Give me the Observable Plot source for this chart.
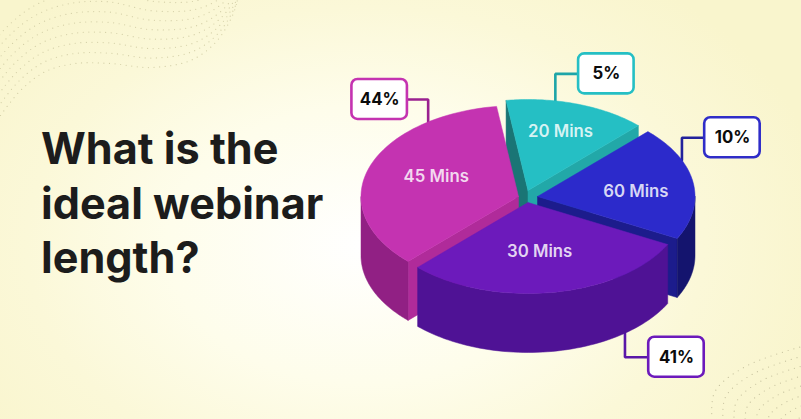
<!DOCTYPE html>
<html>
<head>
<meta charset="utf-8">
<script src="https://cdn.jsdelivr.net/npm/d3@7"></script>
<script src="https://cdn.jsdelivr.net/npm/@observablehq/plot@0.6"></script>
<style>
  html,body{margin:0;padding:0;width:801px;height:419px;overflow:hidden;}
  body{background:radial-gradient(ellipse 470px 330px at 365px 245px,#ffffff 0%,#fefdeb 42%,#fbf8d8 72%,#f9f5cd 100%);}
  svg{background:transparent!important;display:block;}
</style>
</head>
<body>
<div id="chart"></div>
<script>
// ---- chart values ----
const categories = ["45 Mins", "20 Mins", "60 Mins", "30 Mins"];
const shares = [44, 5, 10, 41];
const drawnSweep = [127.5, 52.5, 73, 107];   // degrees each slice really occupies in the artwork
const titleLines = ["What is the", "ideal webinar", "length?"];

// ---- layout and style, kept apart from the values ----
const W = 801, H = 419;
const pie = {cx: 527.5, cy: 196, rx: 157.5, ry: 91, depth: 59, startAt: 134.5, pullX: 9.5, pullY: 6};
const pullDir = [180, 270, 0, 90];
const topColor = ["#c433b1", "#25bfc4", "#2c2acb", "#6c1abb"];
const wallColor = ["#912084", "#1f9a9e", "#14146e", "#4f1295"];
const faceStart = ["#b02b9a", "#1a7575", null, null];
const faceEnd = [null, "#22a8a8", "#1c1c8c", null];
const leaderColor = ["#9a2190", "#1ea5a8", "#22229c", "#5a17a8"];
const boxColor = ["#c433b1", "#25bfc4", "#2f2dc8", "#6c1abb"];
const paintOrder = [1, 2, 0, 3];
const labelPolar = [[0.571, 203.8], [0.69, 287.4], [0.628, 354], [0.532, 82]];
const calloutAnchorDeg = [235, 280, 336.5, 52];
const calloutFromBottom = [false, false, false, true];
const boxOffset = [[-48.5, -22.5], [51, -27], [50.5, -22.5], [51.5, 24]];
const boxW = 55.5, boxH = 40;

// ---- geometry derived from the values ----
const rad = d => d * Math.PI / 180;
const ends = d3.cumsum(drawnSweep).map(s => s + pie.startAt);
const slices = categories.map((name, i) => {
  const t0 = ends[i] - drawnSweep[i], t1 = ends[i];
  return {
    i, name, t0, t1,
    ax: pie.cx + Math.cos(rad(pullDir[i])) * pie.pullX,
    ay: pie.cy + Math.sin(rad(pullDir[i])) * pie.pullY
  };
});
const rim = (s, t, down = 0) => ({
  x: s.ax + pie.rx * Math.cos(rad(t)),
  y: s.ay + pie.ry * Math.sin(rad(t)) + down
});
const arc = (s, a, b, down = 0) => d3.range(0, 61).map(k => rim(s, a + (b - a) * k / 60, down));
const closed = pts => [...pts, pts[0]];

function sliceTop(s) {
  return closed([{x: s.ax, y: s.ay}, ...arc(s, s.t0, s.t1)]);
}
function cutFace(s, t) {
  const c = rim(s, t);
  return closed([{x: s.ax, y: s.ay}, c, {x: c.x, y: c.y + pie.depth}, {x: s.ax, y: s.ay + pie.depth}]);
}
// visible part of the outer wall: the front half of the rim
function outerWall(s) {
  const spans = [[s.t0, s.t1], [s.t0 - 360, s.t1 - 360]];
  const out = [];
  for (const [a, b] of spans) {
    const lo = Math.max(a, 0), hi = Math.min(b, 180);
    if (hi > lo) out.push(closed([...arc(s, lo, hi), ...arc(s, hi, lo, pie.depth)]));
  }
  return out;
}
const poly = (pts, color) => Plot.line(pts, {x: "x", y: "y", fill: color, stroke: color, strokeWidth: 0.5, curve: "linear"});

const sliceMarks = paintOrder.flatMap(i => {
  const s = slices[i], m = [];
  if (faceStart[i]) m.push(poly(cutFace(s, s.t0), faceStart[i]));
  if (faceEnd[i]) m.push(poly(cutFace(s, s.t1), faceEnd[i]));
  outerWall(s).forEach(w => m.push(poly(w, wallColor[i])));
  m.push(poly(sliceTop(s), topColor[i]));
  return m;
});

const callouts = slices.map(s => {
  const a = rim(s, calloutAnchorDeg[s.i], calloutFromBottom[s.i] ? pie.depth : 0);
  const [dx, dy] = boxOffset[s.i];
  return {i: s.i, ax: a.x, ay: a.y, bx: a.x + dx, by: a.y + dy, text: shares[s.i] + "%"};
});
const leaderMarks = callouts.map(c => Plot.line(
  [{x: c.ax, y: c.ay}, {x: c.ax, y: c.by}, {x: c.bx, y: c.by}],
  {x: "x", y: "y", stroke: leaderColor[c.i], strokeWidth: 2.6, curve: "linear", strokeLinejoin: "miter"}
));

const sliceLabels = slices.map(s => {
  const [r, t] = labelPolar[s.i];
  return {text: s.name, x: s.ax + r * pie.rx * Math.cos(rad(t)), y: s.ay + r * pie.ry * Math.sin(rad(t)) + 1};
});

// ---- faint dotted background waves (decoration) ----
function dotsAlong(points, step, curve) {
  const p = document.createElementNS("http://www.w3.org/2000/svg", "path");
  p.setAttribute("d", d3.line().curve(curve)(points));
  const len = p.getTotalLength();
  return d3.range(0, len, step).map(l => { const q = p.getPointAtLength(l); return {x: q.x, y: q.y}; });
}
const waveBase = [[0,115],[20,90],[45,71],[75,63],[110,63],[150,67],[190,60],[215,42],[232,15],[238,-4]];
const waveDots = d3.range(0, 8).flatMap(k => dotsAlong(
  waveBase.map(([x, y]) => [130 + (x - 130) * (1 + k * 0.02), y - k * 10.5 * (1 - Math.abs(x - 100) / 500)]),
  5.6, d3.curveCatmullRom
));
const fanBase = [[712,425],[714,392],[745,366],[805,345]];
const fanDots = d3.range(0, 9).flatMap(k => dotsAlong(
  fanBase.map(([x, y]) => [835 + (x - 835) * (1 - k * 0.09), 445 + (y - 445) * (1 - k * 0.09)]),
  6, d3.curveCatmullRom
));

const chart = Plot.plot({
  width: W, height: H,
  margin: 0,
  style: {background: "transparent", overflow: "visible"},
  x: {domain: [0, W], range: [0, W], axis: null},
  y: {domain: [0, H], range: [0, H], axis: null},
  marks: [
    Plot.dot(waveDots, {x: "x", y: "y", r: 0.6, fill: "#cfcba2", fillOpacity: 0.9}),
    Plot.dot(fanDots, {x: "x", y: "y", r: 0.6, fill: "#bdb995", fillOpacity: 0.85}),
    ...leaderMarks,
    ...sliceMarks,
    Plot.text(sliceLabels, {x: "x", y: "y", text: "text", fill: "#ffffff", fillOpacity: 0.82,
      fontFamily: "Inter", fontWeight: 600, fontSize: 16.8, textAnchor: "middle"}),
    Plot.rect(callouts, {
      x1: d => d.bx - boxW / 2, x2: d => d.bx + boxW / 2,
      y1: d => d.by - boxH / 2, y2: d => d.by + boxH / 2,
      rx: 6, fill: "#ffffff", stroke: d => boxColor[d.i], strokeWidth: 2.6
    }),
    Plot.text(callouts, {x: "bx", y: "by", text: "text", fill: "#0b0b0b",
      fontFamily: "Inter", fontWeight: 700, fontSize: 16.8, textAnchor: "middle"}),
    Plot.text(titleLines, {
      x: () => 40.5, y: (d, i) => 150 + i * 54.5, text: d => d, fill: "#1c1c1c",
      fontFamily: "Inter", fontWeight: 700, fontSize: 43.2, textAnchor: "start"
    })
  ]
});
document.getElementById("chart").append(chart);
</script>
</body>
</html>
